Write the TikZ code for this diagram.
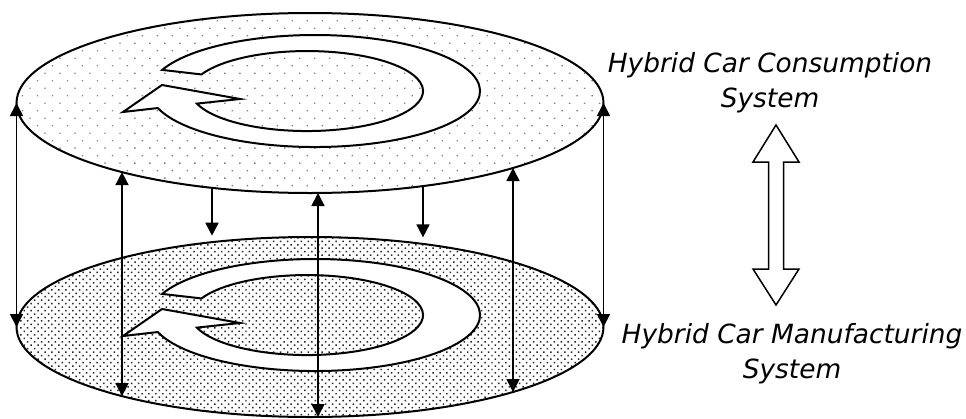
\documentclass[tikz,border=0pt]{standalone}
\usepackage{fontspec}
\setmainfont{DejaVu Sans}
\usetikzlibrary{shapes.geometric, arrows.meta, patterns.meta}

\begin{document}
\begin{tikzpicture}[
  x=1pt, y=1pt,
  >={Triangle[length=13pt, width=13pt]},
  layer/.style = {ellipse, draw, line width=2pt, inner sep=0pt, outer sep=0pt,
                  minimum width=587pt, minimum height=180pt},
  ring/.style  = {draw, fill=white, line width=2pt, line join=miter},
  link/.style  = {<->, line width=1.7pt},
  drop/.style  = {->, line width=1.7pt, shorten >=6.5pt},
  lbl/.style   = {font=\fontsize{26.4}{35}\selectfont\itshape,
                  align=center, inner sep=0pt, anchor=north},
  turn/.pic    = {
    \draw[ring] (-144.8,21.1)
      arc[start angle=157.85, end angle=-162.3, x radius=165pt, y radius=56pt]
      -- (-184,-21) -- (-145,6) -- (-67,-8) -- (-110.1,-12.6)
      arc[start angle=198.3, end angle=515.5, x radius=116pt, y radius=40pt]
      -- cycle;
  }
]
\useasboundingbox (0,0) rectangle (966,-418);

% ===================== LAYERS =====================
\node[layer, pattern={Dots[angle=45, distance=10.6pt, radius=0.95pt]},
      pattern color=black!50]
  (cons) at (310,-103) {};
\pic at (307,-91) {turn};

\node[layer, pattern={Dots[angle=45, distance=4.9pt, radius=1.05pt]},
      pattern color=black!85]
  (manu) at (310,-327) {};
\pic at (307,-315) {turn};

% points on the layer rims
\coordinate (p1t) at (122,-172.1);
\coordinate (p1b) at (122,-396.1);
\coordinate (p2t) at (318,-193);
\coordinate (p2b) at (318,-417);
\coordinate (p3t) at (513,-168);
\coordinate (p3b) at (513,-392);
\coordinate (q1t) at (212,-187.8);
\coordinate (q1b) at (212,-242.2);
\coordinate (q2t) at (423,-186.1);
\coordinate (q2b) at (423,-243.9);

% arrows between the layers
\draw[link] (cons.west) -- (manu.west);
\draw[link] (cons.east) -- (manu.east);
\draw[link] (p1t) -- (p1b);
\draw[link] (p2t) -- (p2b);
\draw[link] (p3t) -- (p3b);
\draw[drop] (q1t) -- (q1b);
\draw[drop] (q2t) -- (q2b);

% ===================== LABELS =====================
\node[lbl] (consl) at (770,-52)  {Hybrid Car Consumption\\System};
\node[lbl] (manul) at (792,-323) {Hybrid Car Manufacturing\\System};

% hollow double arrow
\draw[line width=1.5pt, fill=white]
  (776,-125) -- (799,-162) -- (783.5,-162) -- (783.5,-269) -- (799,-269)
  -- (776,-305) -- (753,-269) -- (768.5,-269) -- (768.5,-162) -- (753,-162)
  -- cycle;

\end{tikzpicture}
\end{document}
